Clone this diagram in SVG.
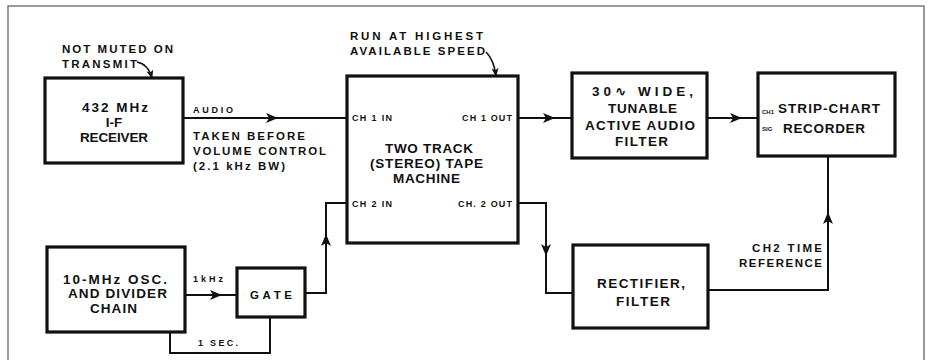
<svg xmlns="http://www.w3.org/2000/svg" width="928" height="360" viewBox="0 0 928 360">
<defs>
<style>
text{font-family:"Liberation Sans","DejaVu Sans",Arial,sans-serif;font-weight:bold;fill:#111;}
.t{font-size:13.5px;}
.l{font-size:11.5px;}
.s{font-size:9px;}
.xs{font-size:6px;}
.box{fill:#fff;stroke:#111;stroke-width:3.2;}
.ln{fill:none;stroke:#111;stroke-width:2;}
.ld{fill:none;stroke:#111;stroke-width:1.6;}
</style>
<marker id="arr" viewBox="0 0 12 10" refX="11" refY="5" markerWidth="12" markerHeight="10" markerUnits="userSpaceOnUse" orient="auto">
<path d="M0,0 L12,5 L0,10 L3,5 Z" fill="#111"/>
</marker>
<marker id="arrs" viewBox="0 0 10 8" refX="9" refY="4" markerWidth="9" markerHeight="7" markerUnits="userSpaceOnUse" orient="auto">
<path d="M0,0 L10,4 L0,8 L2.5,4 Z" fill="#111"/>
</marker>
</defs>
<rect width="928" height="360" fill="#fff"/>
<path d="M8,360 V6 H924 V360" fill="none" stroke="#7a7a7a" stroke-width="1.5"/>

<g id="connectors">
<path class="ln" d="M183,118 L277,118 L347,118" marker-mid="url(#arr)"/>
<path class="ln" d="M518,118 L554,118 L572,118" marker-mid="url(#arr)"/>
<path class="ln" d="M707,118 L741,118 L758,118" marker-mid="url(#arr)"/>
<path class="ln" d="M518,203 H546 V255" marker-end="url(#arr)"/>
<path class="ln" d="M546,253 V293 H573"/>
<path class="ln" d="M305,293 H326 V235" marker-end="url(#arr)"/>
<path class="ln" d="M326,237 V203 H347"/>
<path class="ln" d="M185,295 L221,295 L237,295" marker-mid="url(#arr)"/>
<path class="ln" d="M170,332 V353 H270 V317"/>
<path class="ln" d="M708,290 H828 V213" marker-end="url(#arr)"/>
<path class="ln" d="M828,215 V156"/>
<path class="ld" d="M137,62 Q148,64 152,78" marker-end="url(#arrs)"/>
<path class="ld" d="M486,52 Q494,60 496,76" marker-end="url(#arrs)"/>
</g>

<g id="receiver">
<rect class="box" x="45" y="78" width="138" height="85"/>
<text class="t" x="82" y="112" textLength="66">432 MHz</text>
<text class="t" x="114" y="127" text-anchor="middle">I-F</text>
<text class="t" x="80" y="142" textLength="68">RECEIVER</text>
</g>
<g id="note-receiver">
<text class="l" x="62" y="53" textLength="111">NOT MUTED ON</text>
<text class="l" x="62" y="68" textLength="75">TRANSMIT</text>
</g>
<g id="audio-labels">
<text class="s" x="193" y="113" textLength="40">AUDIO</text>
<text class="l" x="193" y="140" textLength="112">TAKEN BEFORE</text>
<text class="l" x="193" y="155" textLength="133">VOLUME CONTROL</text>
<text class="l" x="193" y="170" textLength="92">(2.1 kHz BW)</text>
</g>

<g id="tape">
<rect class="box" x="347" y="76" width="171" height="167"/>
<text class="s" x="352" y="121" textLength="40">CH 1 IN</text>
<text class="s" x="462" y="121" textLength="50">CH 1 OUT</text>
<text class="t" x="385" y="153" textLength="88">TWO TRACK</text>
<text class="t" x="370" y="168" textLength="113">(STEREO) TAPE</text>
<text class="t" x="393" y="183" textLength="67">MACHINE</text>
<text class="s" x="352" y="207" textLength="40">CH 2 IN</text>
<text class="s" x="458" y="207" textLength="54">CH. 2 OUT</text>
</g>
<g id="note-tape">
<text class="l" x="350" y="40" textLength="133">RUN AT HIGHEST</text>
<text class="l" x="350" y="55" textLength="135">AVAILABLE SPEED</text>
</g>

<g id="filter">
<rect class="box" x="572" y="73" width="135" height="85"/>
<text class="t" x="592" y="96" textLength="101">30∿ WIDE,</text>
<text class="t" x="608" y="113" textLength="69">TUNABLE</text>
<text class="t" x="585" y="130" textLength="110">ACTIVE AUDIO</text>
<text class="t" x="615" y="146" textLength="53">FILTER</text>
</g>

<g id="recorder">
<rect class="box" x="758" y="73" width="137" height="83"/>
<text class="xs" x="762" y="114">CH1</text>
<text class="xs" x="762" y="131">SIG</text>
<text class="t" x="778" y="113" textLength="102">STRIP-CHART</text>
<text class="t" x="783" y="133" textLength="82">RECORDER</text>
</g>
<g id="time-ref-labels">
<text class="l" x="752" y="252" textLength="70">CH2 TIME</text>
<text class="l" x="739" y="267" textLength="83">REFERENCE</text>
</g>

<g id="rectifier">
<rect class="box" x="573" y="245" width="135" height="83"/>
<text class="t" x="597" y="288" textLength="88">RECTIFIER,</text>
<text class="t" x="616" y="306" textLength="54">FILTER</text>
</g>

<g id="oscillator">
<rect class="box" x="47" y="247" width="138" height="85"/>
<text class="t" x="63" y="284" textLength="104">10-MHz OSC.</text>
<text class="t" x="68" y="298" textLength="99">AND DIVIDER</text>
<text class="t" x="90" y="313" textLength="47">CHAIN</text>
<text class="s" x="193" y="282" textLength="30">1kHz</text>
</g>

<g id="gate">
<rect class="box" x="237" y="268" width="68" height="49"/>
<text class="l" x="250" y="299" textLength="42">GATE</text>
<text class="s" x="198" y="346" textLength="40">1 SEC.</text>
</g>
</svg>
